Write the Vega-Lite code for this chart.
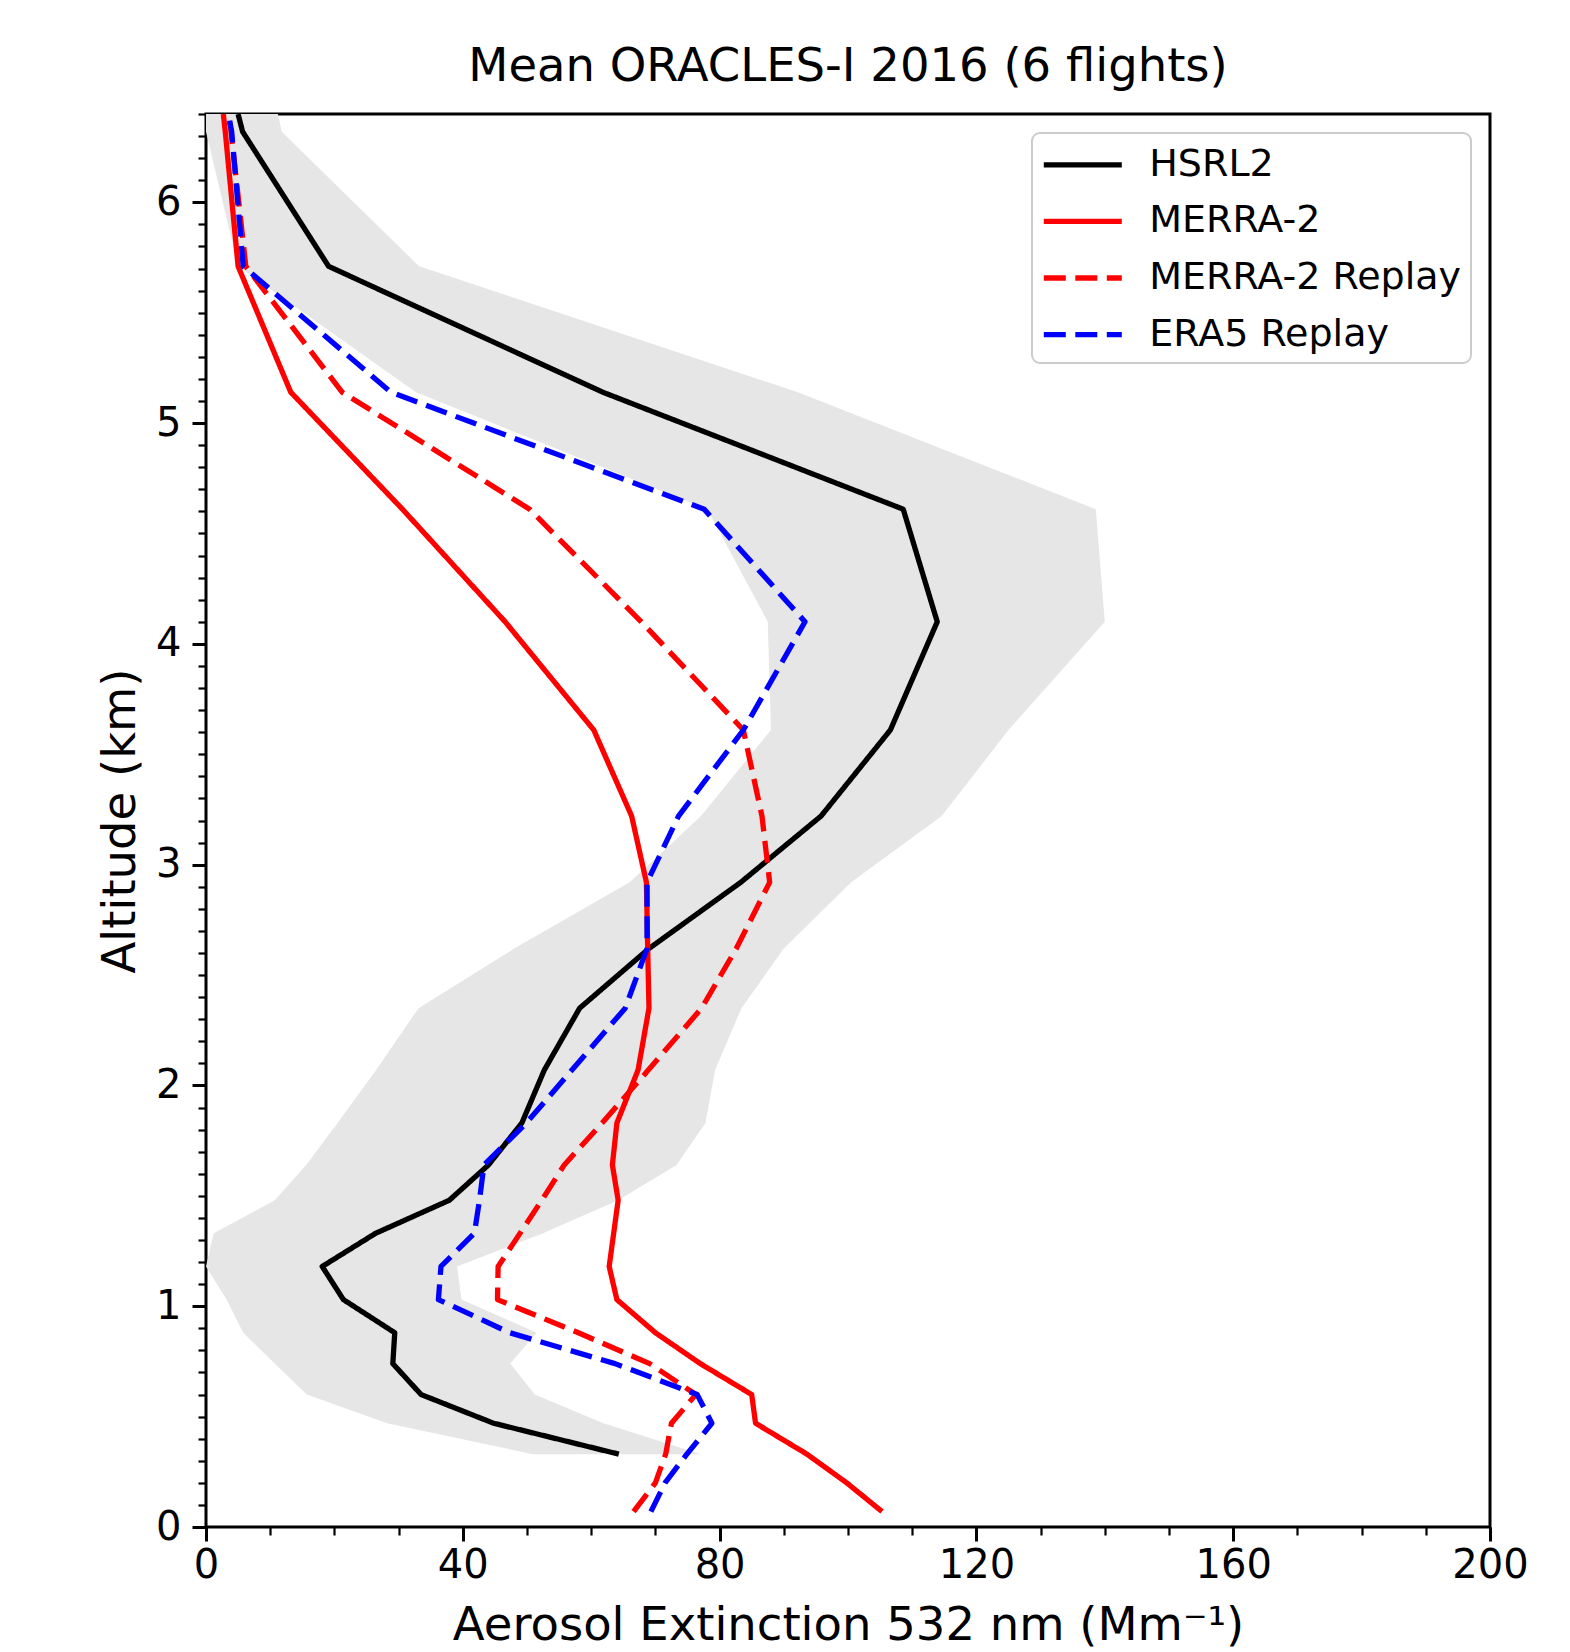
{
  "$schema": "https://vega.github.io/schema/vega-lite/v6.json",
  "width": 1284,
  "height": 1413,
  "autosize": {"type": "none"},
  "padding": {"left": 206, "top": 114, "right": 80, "bottom": 125},
  "background": "white",
  "title": {"text": "Mean ORACLES-I 2016 (6 flights)", "font": "DejaVu Sans", "fontSize": 46.5, "fontWeight": "normal", "color": "black", "anchor": "middle", "baseline": "alphabetic", "offset": -15, "frame": "group"},
  "config": {
    "view": {"stroke": "black", "strokeWidth": 3},
    "legend": {
      "orient": "top-right", "offset": 19, "padding": 9.3,
      "fillColor": "white", "strokeColor": "#cccccc", "strokeWidth": 2, "cornerRadius": 8,
      "symbolType": "M-2,0H2", "symbolSize": 1521, "symbolStrokeWidth": 5.3, "symbolOffset": 19,
      "labelFont": "DejaVu Sans", "labelFontSize": 38, "labelColor": "black",
      "labelOffset": 44, "rowPadding": 14.6, "labelLimit": 700
    }
  },
  "datasets": {
    "band": [
      {"alt": 0.33, "lo": 50.9, "hi": 77.1},
      {"alt": 0.47, "lo": 28.2, "hi": 61.9},
      {"alt": 0.60, "lo": 15.7, "hi": 51.2},
      {"alt": 0.74, "lo": 10.7, "hi": 47.4},
      {"alt": 0.88, "lo": 5.8, "hi": 51.5},
      {"alt": 1.03, "lo": 3.2, "hi": 39.8},
      {"alt": 1.18, "lo": 0.0, "hi": 39.1},
      {"alt": 1.33, "lo": 1.2, "hi": 52.5},
      {"alt": 1.48, "lo": 10.7, "hi": 64.2},
      {"alt": 1.64, "lo": 15.6, "hi": 73.3},
      {"alt": 1.83, "lo": 20.5, "hi": 77.8},
      {"alt": 2.07, "lo": 26.5, "hi": 79.3},
      {"alt": 2.35, "lo": 33.1, "hi": 83.4},
      {"alt": 2.62, "lo": 48.0, "hi": 90.0},
      {"alt": 2.92, "lo": 66.0, "hi": 100.5},
      {"alt": 3.22, "lo": 77.1, "hi": 114.6},
      {"alt": 3.61, "lo": 88.0, "hi": 125.0},
      {"alt": 4.10, "lo": 87.5, "hi": 140.0},
      {"alt": 4.61, "lo": 78.1, "hi": 138.6},
      {"alt": 5.14, "lo": 32.7, "hi": 92.2},
      {"alt": 5.71, "lo": 5.0, "hi": 33.2},
      {"alt": 6.32, "lo": 0.0, "hi": 11.8},
      {"alt": 6.40, "lo": 0.0, "hi": 11.2}
    ],
    "lines": [
      {"series": "HSRL2", "alt": 0.33, "ext": 64.3},
      {"series": "HSRL2", "alt": 0.47, "ext": 44.8},
      {"series": "HSRL2", "alt": 0.60, "ext": 33.5},
      {"series": "HSRL2", "alt": 0.74, "ext": 29.1},
      {"series": "HSRL2", "alt": 0.88, "ext": 29.4},
      {"series": "HSRL2", "alt": 1.03, "ext": 21.4},
      {"series": "HSRL2", "alt": 1.18, "ext": 18.1},
      {"series": "HSRL2", "alt": 1.33, "ext": 26.4},
      {"series": "HSRL2", "alt": 1.48, "ext": 37.9},
      {"series": "HSRL2", "alt": 1.64, "ext": 44.0},
      {"series": "HSRL2", "alt": 1.83, "ext": 49.2},
      {"series": "HSRL2", "alt": 2.07, "ext": 52.7},
      {"series": "HSRL2", "alt": 2.35, "ext": 58.2},
      {"series": "HSRL2", "alt": 2.62, "ext": 69.0},
      {"series": "HSRL2", "alt": 2.92, "ext": 83.3},
      {"series": "HSRL2", "alt": 3.22, "ext": 95.8},
      {"series": "HSRL2", "alt": 3.61, "ext": 106.6},
      {"series": "HSRL2", "alt": 4.10, "ext": 113.9},
      {"series": "HSRL2", "alt": 4.61, "ext": 108.6},
      {"series": "HSRL2", "alt": 5.14, "ext": 61.8},
      {"series": "HSRL2", "alt": 5.71, "ext": 19.1},
      {"series": "HSRL2", "alt": 6.32, "ext": 5.7},
      {"series": "HSRL2", "alt": 6.40, "ext": 5.0},

      {"series": "MERRA-2", "alt": 0.07, "ext": 105.3},
      {"series": "MERRA-2", "alt": 0.20, "ext": 99.8},
      {"series": "MERRA-2", "alt": 0.33, "ext": 93.6},
      {"series": "MERRA-2", "alt": 0.47, "ext": 85.6},
      {"series": "MERRA-2", "alt": 0.60, "ext": 85.0},
      {"series": "MERRA-2", "alt": 0.74, "ext": 77.0},
      {"series": "MERRA-2", "alt": 0.88, "ext": 70.0},
      {"series": "MERRA-2", "alt": 1.03, "ext": 64.0},
      {"series": "MERRA-2", "alt": 1.18, "ext": 62.8},
      {"series": "MERRA-2", "alt": 1.33, "ext": 63.5},
      {"series": "MERRA-2", "alt": 1.48, "ext": 64.2},
      {"series": "MERRA-2", "alt": 1.64, "ext": 63.3},
      {"series": "MERRA-2", "alt": 1.83, "ext": 64.0},
      {"series": "MERRA-2", "alt": 2.07, "ext": 67.3},
      {"series": "MERRA-2", "alt": 2.35, "ext": 69.0},
      {"series": "MERRA-2", "alt": 2.62, "ext": 68.8},
      {"series": "MERRA-2", "alt": 2.92, "ext": 68.6},
      {"series": "MERRA-2", "alt": 3.22, "ext": 66.3},
      {"series": "MERRA-2", "alt": 3.61, "ext": 60.4},
      {"series": "MERRA-2", "alt": 4.10, "ext": 46.6},
      {"series": "MERRA-2", "alt": 4.61, "ext": 30.6},
      {"series": "MERRA-2", "alt": 5.14, "ext": 13.2},
      {"series": "MERRA-2", "alt": 5.71, "ext": 5.0},
      {"series": "MERRA-2", "alt": 6.32, "ext": 3.0},
      {"series": "MERRA-2", "alt": 6.40, "ext": 2.7},

      {"series": "MERRA-2 Replay", "alt": 0.07, "ext": 66.6},
      {"series": "MERRA-2 Replay", "alt": 0.20, "ext": 70.0},
      {"series": "MERRA-2 Replay", "alt": 0.33, "ext": 71.6},
      {"series": "MERRA-2 Replay", "alt": 0.47, "ext": 72.5},
      {"series": "MERRA-2 Replay", "alt": 0.60, "ext": 76.3},
      {"series": "MERRA-2 Replay", "alt": 0.74, "ext": 69.1},
      {"series": "MERRA-2 Replay", "alt": 0.88, "ext": 58.0},
      {"series": "MERRA-2 Replay", "alt": 1.03, "ext": 45.4},
      {"series": "MERRA-2 Replay", "alt": 1.18, "ext": 45.5},
      {"series": "MERRA-2 Replay", "alt": 1.33, "ext": 48.9},
      {"series": "MERRA-2 Replay", "alt": 1.48, "ext": 52.3},
      {"series": "MERRA-2 Replay", "alt": 1.64, "ext": 55.8},
      {"series": "MERRA-2 Replay", "alt": 1.83, "ext": 61.7},
      {"series": "MERRA-2 Replay", "alt": 2.07, "ext": 68.9},
      {"series": "MERRA-2 Replay", "alt": 2.35, "ext": 77.2},
      {"series": "MERRA-2 Replay", "alt": 2.62, "ext": 82.6},
      {"series": "MERRA-2 Replay", "alt": 2.92, "ext": 87.8},
      {"series": "MERRA-2 Replay", "alt": 3.22, "ext": 86.6},
      {"series": "MERRA-2 Replay", "alt": 3.61, "ext": 83.7},
      {"series": "MERRA-2 Replay", "alt": 4.10, "ext": 67.8},
      {"series": "MERRA-2 Replay", "alt": 4.61, "ext": 50.4},
      {"series": "MERRA-2 Replay", "alt": 5.14, "ext": 21.2},
      {"series": "MERRA-2 Replay", "alt": 5.71, "ext": 6.2},
      {"series": "MERRA-2 Replay", "alt": 6.32, "ext": 3.9},
      {"series": "MERRA-2 Replay", "alt": 6.40, "ext": 3.5},

      {"series": "ERA5 Replay", "alt": 0.07, "ext": 69.3},
      {"series": "ERA5 Replay", "alt": 0.20, "ext": 71.5},
      {"series": "ERA5 Replay", "alt": 0.33, "ext": 74.9},
      {"series": "ERA5 Replay", "alt": 0.47, "ext": 78.8},
      {"series": "ERA5 Replay", "alt": 0.60, "ext": 76.5},
      {"series": "ERA5 Replay", "alt": 0.74, "ext": 63.7},
      {"series": "ERA5 Replay", "alt": 0.88, "ext": 47.3},
      {"series": "ERA5 Replay", "alt": 1.03, "ext": 36.2},
      {"series": "ERA5 Replay", "alt": 1.18, "ext": 36.6},
      {"series": "ERA5 Replay", "alt": 1.33, "ext": 41.8},
      {"series": "ERA5 Replay", "alt": 1.48, "ext": 42.6},
      {"series": "ERA5 Replay", "alt": 1.64, "ext": 43.3},
      {"series": "ERA5 Replay", "alt": 1.83, "ext": 49.9},
      {"series": "ERA5 Replay", "alt": 2.07, "ext": 57.0},
      {"series": "ERA5 Replay", "alt": 2.35, "ext": 65.3},
      {"series": "ERA5 Replay", "alt": 2.62, "ext": 68.7},
      {"series": "ERA5 Replay", "alt": 2.92, "ext": 68.7},
      {"series": "ERA5 Replay", "alt": 3.22, "ext": 73.6},
      {"series": "ERA5 Replay", "alt": 3.61, "ext": 83.7},
      {"series": "ERA5 Replay", "alt": 4.10, "ext": 93.3},
      {"series": "ERA5 Replay", "alt": 4.61, "ext": 77.6},
      {"series": "ERA5 Replay", "alt": 5.14, "ext": 28.8},
      {"series": "ERA5 Replay", "alt": 5.71, "ext": 5.8},
      {"series": "ERA5 Replay", "alt": 6.32, "ext": 4.0},
      {"series": "ERA5 Replay", "alt": 6.40, "ext": 3.5}
    ]
  },
  "layer": [
    {
      "data": {"name": "band"},
      "mark": {"type": "area", "orient": "horizontal", "fill": "#e6e6e6", "opacity": 1},
      "encoding": {
        "y": {"field": "alt", "type": "quantitative", "scale": {"domain": [0, 6.4], "nice": false, "zero": false},
          "axis": {"orient": "left", "values": [0,0.1,0.2,0.3,0.4,0.5,0.6,0.7,0.8,0.9,1,1.1,1.2,1.3,1.4,1.5,1.6,1.7,1.8,1.9,2,2.1,2.2,2.3,2.4,2.5,2.6,2.7,2.8,2.9,3,3.1,3.2,3.3,3.4,3.5,3.6,3.7,3.8,3.9,4,4.1,4.2,4.3,4.4,4.5,4.6,4.7,4.8,4.9,5,5.1,5.2,5.3,5.4,5.5,5.6,5.7,5.8,5.9,6,6.1,6.2,6.3,6.4],
            "labels": false, "title": null, "domain": false, "grid": false, "tickSize": 8, "tickWidth": 2.2, "tickColor": "black"}},
        "x": {"field": "lo", "type": "quantitative", "scale": {"domain": [0, 200], "nice": false, "zero": false},
          "axis": {"orient": "bottom", "values": [0,10,20,30,40,50,60,70,80,90,100,110,120,130,140,150,160,170,180,190,200],
            "labels": false, "title": null, "domain": false, "grid": false, "tickSize": 8, "tickWidth": 2.2, "tickColor": "black"}},
        "x2": {"field": "hi"}
      }
    },
    {
      "data": {"name": "lines"},
      "mark": {"type": "line", "clip": true, "strokeWidth": 5.3, "strokeCap": "butt", "strokeJoin": "round"},
      "encoding": {
        "y": {"field": "alt", "type": "quantitative",
          "axis": {"orient": "left", "values": [0,1,2,3,4,5,6], "title": "Altitude (km)", "domain": false, "grid": false,
            "tickSize": 14, "tickWidth": 3, "tickColor": "black", "labelFont": "DejaVu Sans", "labelFontSize": 40, "labelColor": "black",
            "labelPadding": 11, "titleFont": "DejaVu Sans", "titleFontSize": 46.5, "titleFontWeight": "normal", "titleColor": "black", "titlePadding": 11}},
        "x": {"field": "ext", "type": "quantitative",
          "axis": {"orient": "bottom", "values": [0,40,80,120,160,200], "title": "Aerosol Extinction 532 nm (Mm⁻¹)", "domain": false, "grid": false,
            "tickSize": 14, "tickWidth": 3, "tickColor": "black", "labelFont": "DejaVu Sans", "labelFontSize": 40, "labelColor": "black",
            "labelPadding": 4, "labelFlush": false, "labelOverlap": false, "titleFont": "DejaVu Sans", "titleFontSize": 46.5, "titleFontWeight": "normal", "titleColor": "black", "titlePadding": 17}},
        "order": {"field": "alt", "type": "quantitative"},
        "color": {"field": "series", "type": "nominal", "title": null,
          "scale": {"domain": ["HSRL2", "MERRA-2", "MERRA-2 Replay", "ERA5 Replay"], "range": ["black", "#ff0000", "#ff0000", "#0000ff"]}},
        "strokeDash": {"field": "series", "type": "nominal", "title": null,
          "scale": {"domain": ["HSRL2", "MERRA-2", "MERRA-2 Replay", "ERA5 Replay"], "range": [[1, 0], [1, 0], [22, 9.5], [22, 9.5]]}}
      }
    }
  ],
  "resolve": {"axis": {"x": "independent", "y": "independent"}}
}
